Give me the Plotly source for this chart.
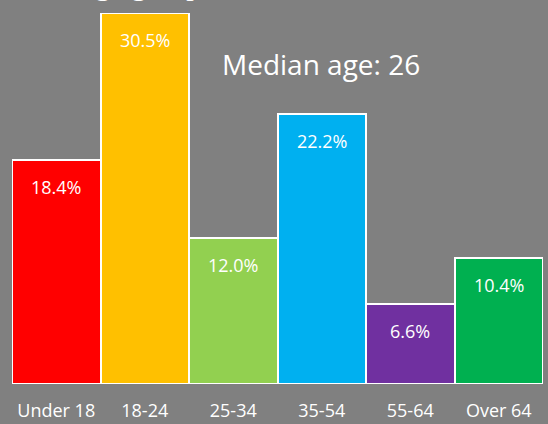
import plotly.graph_objects as go

categories = ["Under 18", "18-24", "25-34", "35-54", "55-64", "Over 64"]
shares = [18.4, 30.5, 12.0, 22.2, 6.6, 10.4]
colors = ["#FF0000", "#FFC000", "#92D050", "#00B0F0", "#7030A0", "#00B050"]
labels = [f"{v:.1f}%" for v in shares]
median_note = "Median age: 26"
title_text = "Visitor age group"

fig = go.Figure(go.Bar(
    x=categories, y=shares,
    marker=dict(color=colors, line=dict(color="white", width=2)),
    hoverinfo="skip",
))

label_annotations = [
    dict(text=t, x=c, y=v, xref="x", yref="y", xanchor="center", yanchor="top",
         yshift=-13, showarrow=False,
         font=dict(size=18, color="white", family="Open Sans"))
    for c, v, t in zip(categories, shares, labels)
]

fig.update_layout(
    width=548, height=424,
    margin=dict(l=12, r=5, t=13, b=40, autoexpand=False),
    paper_bgcolor="#808080", plot_bgcolor="#808080",
    bargap=0, showlegend=False,
    font=dict(family="Open Sans", color="white"),
    xaxis=dict(showgrid=False, zeroline=False, showline=False, automargin=False,
               tickfont=dict(size=18, color="white", family="Open Sans"),
               ticks="", ticklabelstandoff=14),
    yaxis=dict(range=[0, 30.5], visible=False, automargin=False),
    annotations=label_annotations + [
        dict(text=median_note, x=0.582, y=0.8625, xref="paper", yref="paper",
             xanchor="center", yanchor="middle", showarrow=False,
             font=dict(size=28, color="white", family="Open Sans")),
        dict(text=title_text, x=-0.04, y=1.035, xref="paper", yref="paper",
             xanchor="left", yanchor="bottom", yshift=-3, showarrow=False,
             font=dict(size=30, color="white", family="Liberation Serif")),
    ],
)

fig.write_html("out.html", config={"displayModeBar": False},
               post_script="document.body.style.margin='0';document.body.style.overflow='hidden';")
